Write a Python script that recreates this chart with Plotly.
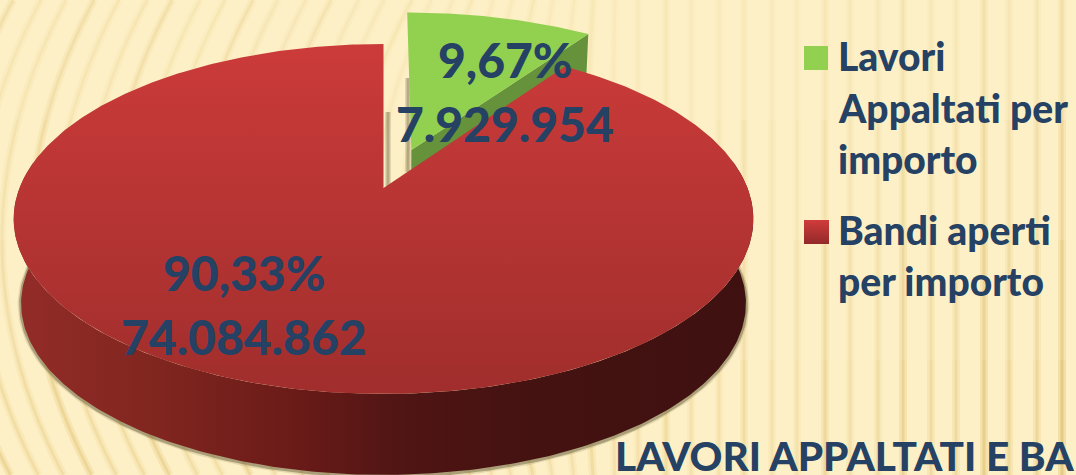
import numpy as np
import plotly.graph_objects as go

# ---- data ----
categories = ["Lavori Appaltati per importo", "Bandi aperti per importo"]
amounts = [7929954, 74084862]
percent_labels = ["9,67%", "90,33%"]
amount_labels = ["7.929.954", "74.084.862"]
legend_lines = [["Lavori", "Appaltati per", "importo"], ["Bandi aperti", "per importo"]]
title_text = "LAVORI APPALTATI E BA"

W, H = 1076, 475
INK = "#254164"
FONT = "Lato, Carlito, Calibri, sans-serif"

# ---- tilted-disc projection ----
CX, Y0, RX, RY, P = 383.5, 188.0, 364.0, 169.5, 0.177
DEPTH, SHRINK = 85.0, 0.98


def project(X, Y, low=False):
    X, Y = np.asarray(X, float), np.asarray(Y, float)
    w = 1 + P * Y
    s = SHRINK if low else 1.0
    dy = DEPTH if low else 0.0
    return CX + s * RX * X / w, Y0 + dy - s * RY * Y / w


share = amounts[0] / sum(amounts)
cut = 2 * np.pi * share
mid = cut / 2
EXPLODE, EXPLODE_TURN, SLICE_SCALE = 0.246, 0.026, 1.035
ex, ey = EXPLODE * np.sin(mid + EXPLODE_TURN), EXPLODE * np.cos(mid + EXPLODE_TURN)

fig = go.Figure()


def poly(x, y, **kw):
    fig.add_trace(go.Scatter(x=np.asarray(x), y=np.asarray(y), mode="lines", fill="toself",
                             line=dict(width=0), hoverinfo="skip", showlegend=False, **kw))


# ---- red outer wall (with soft cast shadow) ----
a_wall = np.linspace(np.pi * 0.45, np.pi * 1.55, 260)
tx, ty = project(np.sin(a_wall), np.cos(a_wall))
bx, by = project(np.sin(a_wall), np.cos(a_wall), low=True)
for wd, col in [(7, "rgba(120,110,70,0.18)"), (4, "rgba(100,90,55,0.45)")]:
    fig.add_trace(go.Scatter(x=bx, y=by + 1, mode="lines", line=dict(width=wd, color=col),
                             hoverinfo="skip", showlegend=False))

# ---- green slice: cut face, then top ----
sx, sy = SLICE_SCALE * np.sin(cut), SLICE_SCALE * np.cos(cut)
gx, gy = project(ex + np.array([0, sx]), ey + np.array([0, sy]))
gbx, gby = project(ex + np.array([0, sx]), ey + np.array([0, sy]), low=True)
poly(np.r_[gx, gbx[::-1]], np.r_[gy, gby[::-1]], fillcolor="#65923A")

a_green = np.linspace(0, cut, 60)
gtx, gty = project(np.r_[ex, ex + SLICE_SCALE * np.sin(a_green)],
                   np.r_[ey, ey + SLICE_SCALE * np.cos(a_green)])
poly(gtx, gty, fillcolor="#92D050")

# red wall
poly(np.r_[tx, bx[::-1]], np.r_[ty, by[::-1]], fillcolor="#6a1b18",
     fillgradient=dict(type="horizontal",
                       colorscale=[[0, "#932C29"], [0.2, "#80251f"], [0.38, "#6a1b18"],
                                   [0.52, "#501514"], [0.7, "#441211"], [1, "#3E1110"]]))

# red top
a_red = np.linspace(cut, 2 * np.pi, 400)
rx_, ry_ = project(np.r_[0, np.sin(a_red)], np.r_[0, np.cos(a_red)])
poly(rx_, ry_, fillcolor="#b33433",
     fillgradient=dict(type="vertical",
                       colorscale=[[0, "#A02E2C"], [1, "#CB3B3A"]]))

# legend swatches
SWATCH_X = [804, 829]
swatch_y = [[46, 70], [220, 244]]
poly([SWATCH_X[0], SWATCH_X[0] + 24, SWATCH_X[0] + 24, SWATCH_X[0]],
     [swatch_y[0][0], swatch_y[0][0], swatch_y[0][1], swatch_y[0][1]], fillcolor="#92D050")
poly([SWATCH_X[0], SWATCH_X[1], SWATCH_X[1], SWATCH_X[0]],
     [swatch_y[1][0], swatch_y[1][0], swatch_y[1][1], swatch_y[1][1]], fillcolor="#b33433",
     fillgradient=dict(type="vertical", colorscale=[[0, "#93292A"], [1, "#D03C3B"]]))

# ---- text ----
ann = []


def label(x, y, t, size, anchor="center"):
    ann.append(dict(x=x, y=y, xref="x", yref="y", text=t, showarrow=False, xanchor=anchor,
                    yanchor="middle", align="left", borderpad=0,
                    font=dict(family=FONT, size=size, color=INK, weight=900)))


label(505, 59, percent_labels[0], 48)
label(505, 123, amount_labels[0], 48)
label(244, 272, percent_labels[1], 48)
label(244, 336, amount_labels[1], 48)

legend_y = [[56, 108, 159], [230, 281]]
for lines, ys_ in zip(legend_lines, legend_y):
    for t, y in zip(lines, ys_):
        label(837, y, t, 39, "left")
label(614, 455, title_text, 40.5, "left")

# ---- background stripes (decoration) ----
shapes = []
x0 = -210.0
i = 0
bands = [(0, 120), (120, 240), (240, 360), (360, 475)]
while x0 < W + 30:
    k = np.clip((620 - x0) / 270, 0, 1) / 450
    for lo, hi in bands:
        yy = np.linspace(lo, hi, 16)
        xx = x0 + k * (yy - 240) ** 2 / 2
        d = "M" + " L".join(f"{a:.1f},{b:.1f}" for a, b in zip(xx, yy))
        ymid = (lo + hi) / 2
        xm = xx.mean()
        alpha = 0.08 + 0.22 * ymid / H + 0.10 * np.clip((420 - xm) / 300, 0, 1) \
            + 0.25 * np.clip((xm - 780) / 300, 0, 1) * (0.4 + ymid / H)
        alpha *= 1.25 if i % 3 == 0 else 0.8
        for wd, mult in [(8, 0.45), (3, 0.8)]:
            shapes.append(dict(type="path", path=d, xref="x", yref="y", layer="below",
                               line=dict(color=f"rgba(222,188,104,{alpha * mult:.3f})", width=wd)))
    x0 += 25.0 if i % 2 else 28.0
    i += 1

# gap shadows beside the slice cut
for x, y1, y2 in [(388, 112, 186), (408, 78, 172)]:
    for wd, op in [(6, 0.16), (3, 0.32)]:
        shapes.append(dict(type="line", x0=x, x1=x, y0=y1, y1=y2, xref="x", yref="y", layer="below",
                           line=dict(color=f"rgba(90,80,50,{op})", width=wd)))

fig.update_layout(
    width=W, height=H, margin=dict(l=0, r=0, t=0, b=0),
    paper_bgcolor="#FDF0C6", plot_bgcolor="#FDF0C6",
    xaxis=dict(range=[0, W], visible=False, fixedrange=True),
    yaxis=dict(range=[H, 0], visible=False, fixedrange=True),
    shapes=shapes, annotations=ann, showlegend=False, hovermode=False,
)
fig.write_html("out.html", config=dict(displayModeBar=False),
               post_script="document.body.style.margin='0';document.documentElement.style.overflow='hidden';")
